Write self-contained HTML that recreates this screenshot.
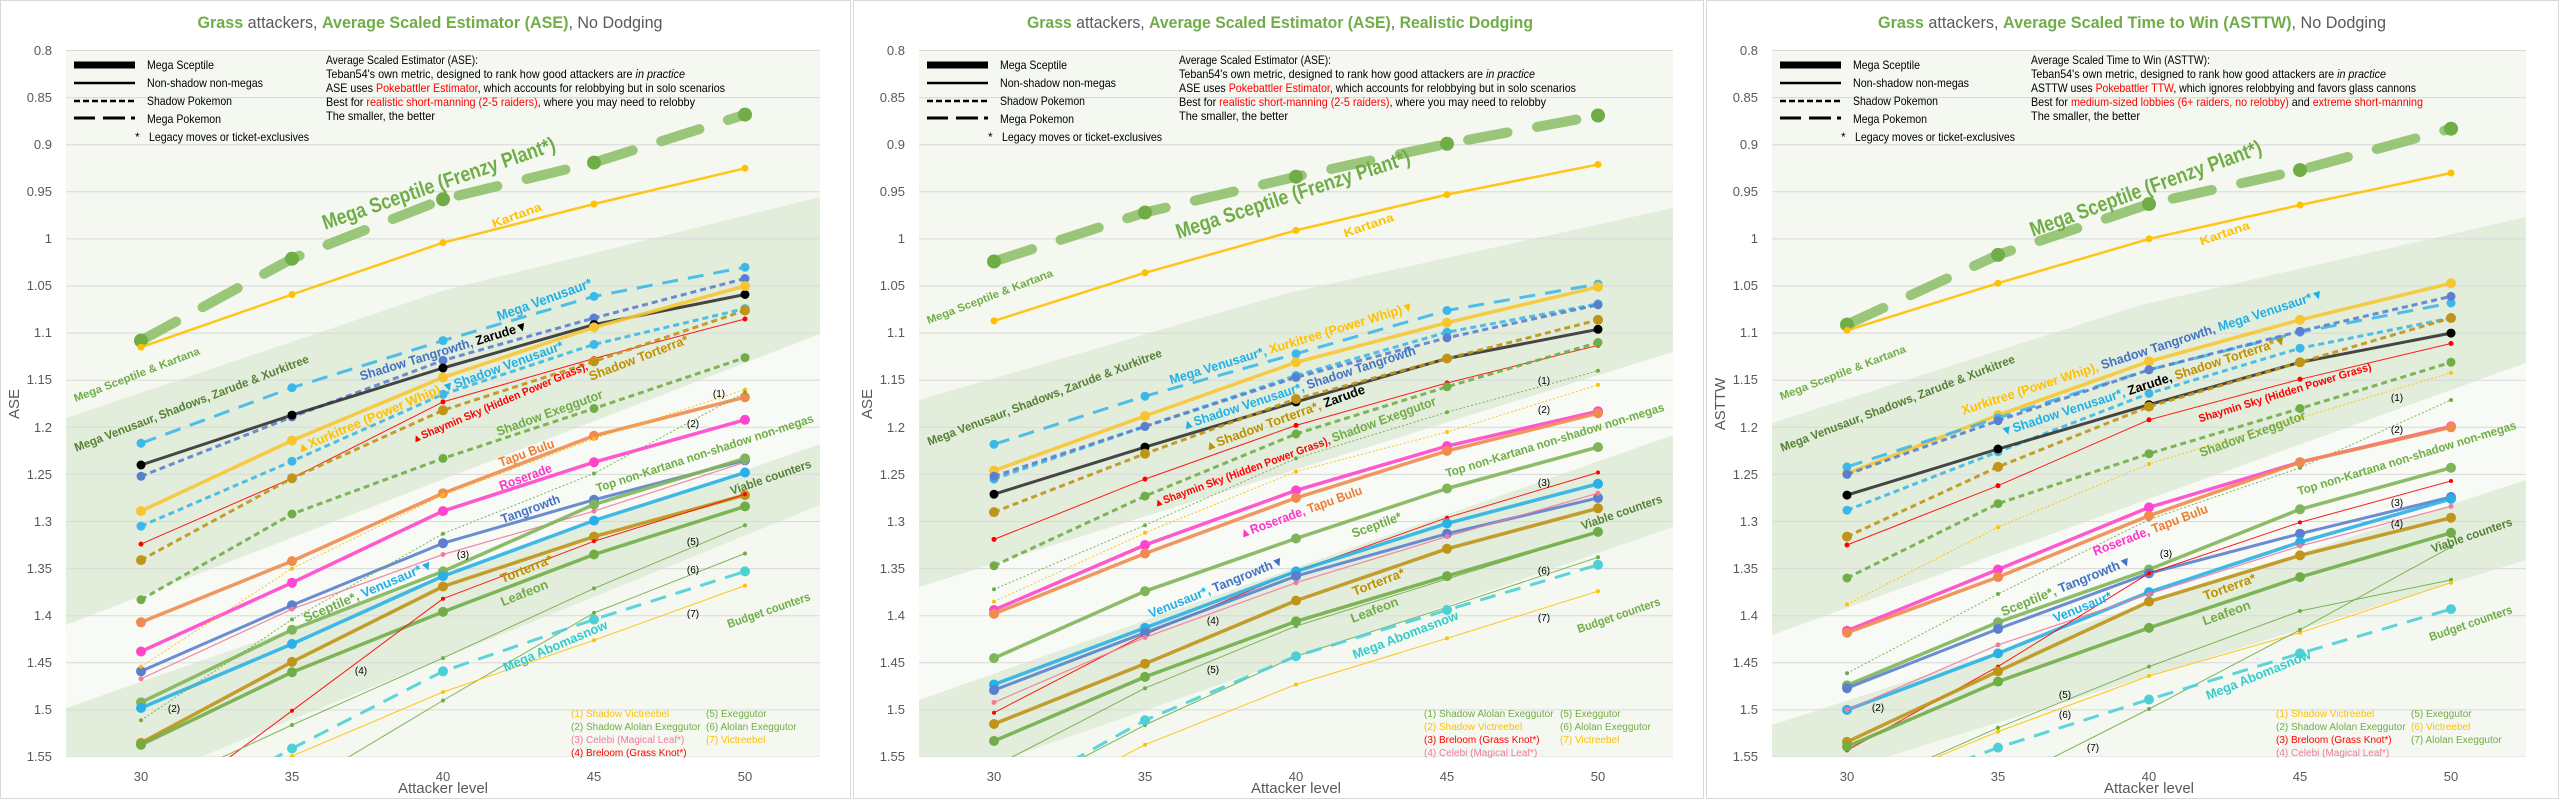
<!DOCTYPE html>
<html><head><meta charset="utf-8">
<style>
html,body{margin:0;padding:0;background:#fff;width:2560px;height:800px;overflow:hidden;}
svg{display:block;font-family:"Liberation Sans",sans-serif;}
.tk{font-size:13px;fill:#595959;}
.lg{font-size:12px;fill:#000;}
.b{font-weight:bold;}
.fn{font-size:10px;}
.sm{font-size:10px;fill:#000;}
</style></head>
<body>
<svg id="s" width="2560" height="800" viewBox="0 0 2560 800" xmlns="http://www.w3.org/2000/svg" overflow="hidden">
<defs><clipPath id="cp" clipPathUnits="userSpaceOnUse"><rect x="66" y="50" width="754" height="707"/></clipPath></defs>
<rect width="2560" height="800" fill="#fff"/>

<!-- PANEL 1 -->
<g transform="translate(0,0)">
<rect x="0.5" y="0.5" width="850" height="798" fill="#fff" stroke="#d9d9d9"/>
<g id="d0"></g>
<text x="430" y="28" text-anchor="middle" font-size="17" textLength="465" lengthAdjust="spacingAndGlyphs" fill="#595959"><tspan fill="#70ad47" font-weight="bold">Grass</tspan> attackers, <tspan fill="#70ad47" font-weight="bold">Average Scaled Estimator (ASE)</tspan>, No Dodging</text>
<g class="tk" text-anchor="end">
<text x="52" y="55">0.8</text><text x="52" y="102">0.85</text><text x="52" y="149">0.9</text><text x="52" y="196">0.95</text><text x="52" y="243">1</text><text x="52" y="290">1.05</text><text x="52" y="337">1.1</text><text x="52" y="384">1.15</text><text x="52" y="432">1.2</text><text x="52" y="479">1.25</text><text x="52" y="526">1.3</text><text x="52" y="573">1.35</text><text x="52" y="620">1.4</text><text x="52" y="667">1.45</text><text x="52" y="714">1.5</text><text x="52" y="761">1.55</text>
</g>
<g class="tk" text-anchor="middle"><text x="141" y="781">30</text><text x="292" y="781">35</text><text x="443" y="781">40</text><text x="594" y="781">45</text><text x="745" y="781">50</text></g>
<text x="443" y="793" text-anchor="middle" font-size="15" fill="#595959">Attacker level</text>
<text transform="translate(19,404) rotate(-90)" text-anchor="middle" font-size="15" fill="#595959">ASE</text>
<g stroke="#000" fill="none"><line x1="74" x2="135" y1="65" y2="65" stroke-width="7"/><line x1="74" x2="135" y1="83" y2="83" stroke-width="2.5"/><line x1="74" x2="135" y1="101" y2="101" stroke-width="2.5" stroke-dasharray="6 3"/><path d="M74 118H95M103 118H125M131 118H135" stroke-width="3"/></g>
<g class="lg"><text x="147" y="69" textLength="67" lengthAdjust="spacingAndGlyphs">Mega Sceptile</text><text x="147" y="87" textLength="116" lengthAdjust="spacingAndGlyphs">Non-shadow non-megas</text><text x="147" y="105" textLength="85" lengthAdjust="spacingAndGlyphs">Shadow Pokemon</text><text x="147" y="123" textLength="74" lengthAdjust="spacingAndGlyphs">Mega Pokemon</text><text x="135" y="141">*</text><text x="149" y="141" textLength="160" lengthAdjust="spacingAndGlyphs">Legacy moves or ticket-exclusives</text>
<text x="326" y="64" textLength="152" lengthAdjust="spacingAndGlyphs">Average Scaled Estimator (ASE):</text>
<text x="326" y="78" textLength="359" lengthAdjust="spacingAndGlyphs">Teban54's own metric, designed to rank how good attackers are <tspan font-style="italic">in practice</tspan></text>
<text x="326" y="92" textLength="399" lengthAdjust="spacingAndGlyphs">ASE uses <tspan fill="#ff0000">Pokebattler Estimator</tspan>, which accounts for relobbying but in solo scenarios</text>
<text x="326" y="106" textLength="369" lengthAdjust="spacingAndGlyphs">Best for <tspan fill="#ff0000">realistic short-manning (2-5 raiders)</tspan>, where you may need to relobby</text>
<text x="326" y="120" textLength="109" lengthAdjust="spacingAndGlyphs">The smaller, the better</text></g>
<g class="b" text-anchor="middle">
<text transform="translate(441,190) rotate(-19)" font-size="21" fill="#70ad47" textLength="245" lengthAdjust="spacingAndGlyphs">Mega Sceptile (Frenzy Plant*)</text>
<text transform="translate(518,219) rotate(-20)" font-size="12" fill="#ffc000" textLength="52" lengthAdjust="spacingAndGlyphs">Kartana</text>
<text transform="translate(138,378) rotate(-21)" font-size="11" fill="#70ad47" textLength="134" lengthAdjust="spacingAndGlyphs">Mega Sceptile &amp; Kartana</text>
<text transform="translate(193,407) rotate(-21)" font-size="12" fill="#548235" textLength="250" lengthAdjust="spacingAndGlyphs">Mega Venusaur, Shadows, Zarude &amp; Xurkitree</text>
<text transform="translate(546,304) rotate(-20)" font-size="14" fill="#1fb0e8" textLength="100" lengthAdjust="spacingAndGlyphs">Mega Venusaur*</text>
<text transform="translate(445,355) rotate(-17)" font-size="13" fill="#4472c4" textLength="175" lengthAdjust="spacingAndGlyphs">Shadow Tangrowth, <tspan fill="#000">Zarude▼</tspan></text>
<text transform="translate(504,371) rotate(-20)" font-size="13" fill="#1fb0e8" textLength="128" lengthAdjust="spacingAndGlyphs">▼Shadow Venusaur*</text>
<text transform="translate(640,362) rotate(-21)" font-size="13" fill="#bf9000" textLength="105" lengthAdjust="spacingAndGlyphs">Shadow Torterra*</text>
<text transform="translate(370,423) rotate(-23)" font-size="13" fill="#ffc000" textLength="155" lengthAdjust="spacingAndGlyphs">▲Xurkitree (Power Whip)</text>
<text transform="translate(501,406) rotate(-23)" font-size="11" fill="#ff0000" textLength="190" lengthAdjust="spacingAndGlyphs">▲Shaymin Sky (Hidden Power Grass),</text>
<text transform="translate(551,417) rotate(-20)" font-size="13" fill="#70ad47" textLength="112" lengthAdjust="spacingAndGlyphs">Shadow Exeggutor</text>
<text transform="translate(528,457) rotate(-20)" font-size="13" fill="#ed7d31" textLength="58" lengthAdjust="spacingAndGlyphs">Tapu Bulu</text>
<text transform="translate(527,481) rotate(-20)" font-size="13" fill="#ff33cc" textLength="55" lengthAdjust="spacingAndGlyphs">Roserade</text>
<text transform="translate(532,513) rotate(-20)" font-size="13" fill="#4472c4" textLength="62" lengthAdjust="spacingAndGlyphs">Tangrowth</text>
<text transform="translate(706,457) rotate(-18)" font-size="12" fill="#70ad47" textLength="228" lengthAdjust="spacingAndGlyphs">Top non-Kartana non-shadow non-megas</text>
<text transform="translate(772,481) rotate(-19)" font-size="12" fill="#548235" textLength="85" lengthAdjust="spacingAndGlyphs">Viable counters</text>
<text transform="translate(770,614) rotate(-19)" font-size="12" fill="#70ad47" textLength="87" lengthAdjust="spacingAndGlyphs">Budget counters</text>
<text transform="translate(370,595) rotate(-23)" font-size="13" fill="#70ad47" textLength="140" lengthAdjust="spacingAndGlyphs">Sceptile*, <tspan fill="#1fb0e8">Venusaur*▼</tspan></text>
<text transform="translate(528,573) rotate(-22)" font-size="13" fill="#bf9000" textLength="55" lengthAdjust="spacingAndGlyphs">Torterra*</text>
<text transform="translate(526,597) rotate(-22)" font-size="13" fill="#70ad47" textLength="50" lengthAdjust="spacingAndGlyphs">Leafeon</text>
<text transform="translate(557,650) rotate(-23)" font-size="13" fill="#33cccc" textLength="112" lengthAdjust="spacingAndGlyphs">Mega Abomasnow</text>
</g>
<g class="sm" text-anchor="middle"><text x="719" y="397">(1)</text><text x="693" y="427">(2)</text><text x="463" y="558">(3)</text><text x="361" y="674">(4)</text><text x="693" y="545">(5)</text><text x="693" y="573">(6)</text><text x="693" y="617">(7)</text><text x="174" y="712">(2)</text></g>
<g class="fn"><text x="571" y="717" fill="#ffc000">(1) Shadow Victreebel</text><text x="571" y="730" fill="#70ad47">(2) Shadow Alolan Exeggutor</text><text x="571" y="743" fill="#f27a9c">(3) Celebi (Magical Leaf*)</text><text x="571" y="756" fill="#ff0000">(4) Breloom (Grass Knot*)</text><text x="706" y="717" fill="#70ad47">(5) Exeggutor</text><text x="706" y="730" fill="#70ad47">(6) Alolan Exeggutor</text><text x="706" y="743" fill="#ffc000">(7) Victreebel</text></g>
</g>

<!-- PANEL 2 -->
<g transform="translate(853,0)">
<rect x="0.5" y="0.5" width="850" height="798" fill="#fff" stroke="#d9d9d9"/>
<g id="d1"></g>
<text x="427" y="28" text-anchor="middle" font-size="17" textLength="506" lengthAdjust="spacingAndGlyphs" fill="#595959"><tspan fill="#70ad47" font-weight="bold">Grass</tspan> attackers, <tspan fill="#70ad47" font-weight="bold">Average Scaled Estimator (ASE)</tspan>, <tspan fill="#70ad47" font-weight="bold">Realistic Dodging</tspan></text>
<g class="tk" text-anchor="end">
<text x="52" y="55">0.8</text><text x="52" y="102">0.85</text><text x="52" y="149">0.9</text><text x="52" y="196">0.95</text><text x="52" y="243">1</text><text x="52" y="290">1.05</text><text x="52" y="337">1.1</text><text x="52" y="384">1.15</text><text x="52" y="432">1.2</text><text x="52" y="479">1.25</text><text x="52" y="526">1.3</text><text x="52" y="573">1.35</text><text x="52" y="620">1.4</text><text x="52" y="667">1.45</text><text x="52" y="714">1.5</text><text x="52" y="761">1.55</text>
</g>
<g class="tk" text-anchor="middle"><text x="141" y="781">30</text><text x="292" y="781">35</text><text x="443" y="781">40</text><text x="594" y="781">45</text><text x="745" y="781">50</text></g>
<text x="443" y="793" text-anchor="middle" font-size="15" fill="#595959">Attacker level</text>
<text transform="translate(19,404) rotate(-90)" text-anchor="middle" font-size="15" fill="#595959">ASE</text>
<g stroke="#000" fill="none"><line x1="74" x2="135" y1="65" y2="65" stroke-width="7"/><line x1="74" x2="135" y1="83" y2="83" stroke-width="2.5"/><line x1="74" x2="135" y1="101" y2="101" stroke-width="2.5" stroke-dasharray="6 3"/><path d="M74 118H95M103 118H125M131 118H135" stroke-width="3"/></g>
<g class="lg"><text x="147" y="69" textLength="67" lengthAdjust="spacingAndGlyphs">Mega Sceptile</text><text x="147" y="87" textLength="116" lengthAdjust="spacingAndGlyphs">Non-shadow non-megas</text><text x="147" y="105" textLength="85" lengthAdjust="spacingAndGlyphs">Shadow Pokemon</text><text x="147" y="123" textLength="74" lengthAdjust="spacingAndGlyphs">Mega Pokemon</text><text x="135" y="141">*</text><text x="149" y="141" textLength="160" lengthAdjust="spacingAndGlyphs">Legacy moves or ticket-exclusives</text>
<text x="326" y="64" textLength="152" lengthAdjust="spacingAndGlyphs">Average Scaled Estimator (ASE):</text>
<text x="326" y="78" textLength="356" lengthAdjust="spacingAndGlyphs">Teban54's own metric, designed to rank how good attackers are <tspan font-style="italic">in practice</tspan></text>
<text x="326" y="92" textLength="397" lengthAdjust="spacingAndGlyphs">ASE uses <tspan fill="#ff0000">Pokebattler Estimator</tspan>, which accounts for relobbying but in solo scenarios</text>
<text x="326" y="106" textLength="367" lengthAdjust="spacingAndGlyphs">Best for <tspan fill="#ff0000">realistic short-manning (2-5 raiders)</tspan>, where you may need to relobby</text>
<text x="326" y="120" textLength="109" lengthAdjust="spacingAndGlyphs">The smaller, the better</text></g>
<g class="b" text-anchor="middle">
<text transform="translate(442,201) rotate(-18)" font-size="21" fill="#70ad47" textLength="245" lengthAdjust="spacingAndGlyphs">Mega Sceptile (Frenzy Plant*)</text>
<text transform="translate(517,229) rotate(-19)" font-size="12" fill="#ffc000" textLength="52" lengthAdjust="spacingAndGlyphs">Kartana</text>
<text transform="translate(138,300) rotate(-21)" font-size="11" fill="#70ad47" textLength="134" lengthAdjust="spacingAndGlyphs">Mega Sceptile &amp; Kartana</text>
<text transform="translate(193,401) rotate(-21)" font-size="12" fill="#548235" textLength="250" lengthAdjust="spacingAndGlyphs">Mega Venusaur, Shadows, Zarude &amp; Xurkitree</text>
<text transform="translate(440,347) rotate(-17)" font-size="13" fill="#1fb0e8" textLength="255" lengthAdjust="spacingAndGlyphs">Mega Venusaur*, <tspan fill="#ffc000">Xurkitree (Power Whip)▼</tspan></text>
<text transform="translate(447,392) rotate(-18)" font-size="13" fill="#1fb0e8" textLength="245" lengthAdjust="spacingAndGlyphs">▲Shadow Venusaur*, <tspan fill="#4472c4">Shadow Tangrowth</tspan></text>
<text transform="translate(433,422) rotate(-20)" font-size="13" fill="#bf9000" textLength="170" lengthAdjust="spacingAndGlyphs">▲Shadow Torterra*, <tspan fill="#000">Zarude</tspan></text>
<text transform="translate(443,456) rotate(-20)" font-size="11" fill="#ff0000" textLength="300" lengthAdjust="spacingAndGlyphs">▲Shaymin Sky (Hidden Power Grass), <tspan fill="#70ad47" font-size="13">Shadow Exeggutor</tspan></text>
<text transform="translate(449,516) rotate(-20)" font-size="13" fill="#ff33cc" textLength="130" lengthAdjust="spacingAndGlyphs">▲Roserade, <tspan fill="#ed7d31">Tapu Bulu</tspan></text>
<text transform="translate(703,444) rotate(-17)" font-size="12" fill="#70ad47" textLength="228" lengthAdjust="spacingAndGlyphs">Top non-Kartana non-shadow non-megas</text>
<text transform="translate(525,529) rotate(-20)" font-size="13" fill="#70ad47" textLength="52" lengthAdjust="spacingAndGlyphs">Sceptile*</text>
<text transform="translate(365,591) rotate(-22)" font-size="13" fill="#1fb0e8" textLength="145" lengthAdjust="spacingAndGlyphs">Venusaur*, <tspan fill="#4472c4">Tangrowth▼</tspan></text>
<text transform="translate(527,586) rotate(-21)" font-size="13" fill="#bf9000" textLength="55" lengthAdjust="spacingAndGlyphs">Torterra*</text>
<text transform="translate(523,614) rotate(-21)" font-size="13" fill="#70ad47" textLength="50" lengthAdjust="spacingAndGlyphs">Leafeon</text>
<text transform="translate(554,639) rotate(-21)" font-size="13" fill="#33cccc" textLength="112" lengthAdjust="spacingAndGlyphs">Mega Abomasnow</text>
<text transform="translate(770,516) rotate(-19)" font-size="12" fill="#548235" textLength="85" lengthAdjust="spacingAndGlyphs">Viable counters</text>
<text transform="translate(767,619) rotate(-19)" font-size="12" fill="#70ad47" textLength="87" lengthAdjust="spacingAndGlyphs">Budget counters</text>
</g>
<g class="sm" text-anchor="middle"><text x="691" y="384">(1)</text><text x="691" y="413">(2)</text><text x="691" y="486">(3)</text><text x="360" y="624">(4)</text><text x="360" y="673">(5)</text><text x="691" y="574">(6)</text><text x="691" y="621">(7)</text></g>
<g class="fn"><text x="571" y="717" fill="#70ad47">(1) Shadow Alolan Exeggutor</text><text x="571" y="730" fill="#ffc000">(2) Shadow Victreebel</text><text x="571" y="743" fill="#ff0000">(3) Breloom (Grass Knot*)</text><text x="571" y="756" fill="#f27a9c">(4) Celebi (Magical Leaf*)</text><text x="707" y="717" fill="#70ad47">(5) Exeggutor</text><text x="707" y="730" fill="#70ad47">(6) Alolan Exeggutor</text><text x="707" y="743" fill="#ffc000">(7) Victreebel</text></g>
</g>

<!-- PANEL 3 -->
<g transform="translate(1706,0)">
<rect x="0.5" y="0.5" width="852" height="798" fill="#fff" stroke="#d9d9d9"/>
<g id="d2"></g>
<text x="426" y="28" text-anchor="middle" font-size="17" textLength="508" lengthAdjust="spacingAndGlyphs" fill="#595959"><tspan fill="#70ad47" font-weight="bold">Grass</tspan> attackers, <tspan fill="#70ad47" font-weight="bold">Average Scaled Time to Win (ASTTW)</tspan>, No Dodging</text>
<g class="tk" text-anchor="end">
<text x="52" y="55">0.8</text><text x="52" y="102">0.85</text><text x="52" y="149">0.9</text><text x="52" y="196">0.95</text><text x="52" y="243">1</text><text x="52" y="290">1.05</text><text x="52" y="337">1.1</text><text x="52" y="384">1.15</text><text x="52" y="432">1.2</text><text x="52" y="479">1.25</text><text x="52" y="526">1.3</text><text x="52" y="573">1.35</text><text x="52" y="620">1.4</text><text x="52" y="667">1.45</text><text x="52" y="714">1.5</text><text x="52" y="761">1.55</text>
</g>
<g class="tk" text-anchor="middle"><text x="141" y="781">30</text><text x="292" y="781">35</text><text x="443" y="781">40</text><text x="594" y="781">45</text><text x="745" y="781">50</text></g>
<text x="443" y="793" text-anchor="middle" font-size="15" fill="#595959">Attacker level</text>
<text transform="translate(19,404) rotate(-90)" text-anchor="middle" font-size="15" fill="#595959">ASTTW</text>
<g stroke="#000" fill="none"><line x1="74" x2="135" y1="65" y2="65" stroke-width="7"/><line x1="74" x2="135" y1="83" y2="83" stroke-width="2.5"/><line x1="74" x2="135" y1="101" y2="101" stroke-width="2.5" stroke-dasharray="6 3"/><path d="M74 118H95M103 118H125M131 118H135" stroke-width="3"/></g>
<g class="lg"><text x="147" y="69" textLength="67" lengthAdjust="spacingAndGlyphs">Mega Sceptile</text><text x="147" y="87" textLength="116" lengthAdjust="spacingAndGlyphs">Non-shadow non-megas</text><text x="147" y="105" textLength="85" lengthAdjust="spacingAndGlyphs">Shadow Pokemon</text><text x="147" y="123" textLength="74" lengthAdjust="spacingAndGlyphs">Mega Pokemon</text><text x="135" y="141">*</text><text x="149" y="141" textLength="160" lengthAdjust="spacingAndGlyphs">Legacy moves or ticket-exclusives</text>
<text x="325" y="64" textLength="179" lengthAdjust="spacingAndGlyphs">Average Scaled Time to Win (ASTTW):</text>
<text x="325" y="78" textLength="355" lengthAdjust="spacingAndGlyphs">Teban54's own metric, designed to rank how good attackers are <tspan font-style="italic">in practice</tspan></text>
<text x="325" y="92" textLength="385" lengthAdjust="spacingAndGlyphs">ASTTW uses <tspan fill="#ff0000">Pokebattler TTW</tspan>, which ignores relobbying and favors glass cannons</text>
<text x="325" y="106" textLength="392" lengthAdjust="spacingAndGlyphs">Best for <tspan fill="#ff0000">medium-sized lobbies (6+ raiders, no relobby)</tspan> and <tspan fill="#ff0000">extreme short-manning</tspan></text>
<text x="325" y="120" textLength="109" lengthAdjust="spacingAndGlyphs">The smaller, the better</text></g>
<g class="b" text-anchor="middle">
<text transform="translate(442,195) rotate(-20)" font-size="21" fill="#70ad47" textLength="245" lengthAdjust="spacingAndGlyphs">Mega Sceptile (Frenzy Plant*)</text>
<text transform="translate(520,237) rotate(-19)" font-size="12" fill="#ffc000" textLength="52" lengthAdjust="spacingAndGlyphs">Kartana</text>
<text transform="translate(138,376) rotate(-21)" font-size="11" fill="#70ad47" textLength="134" lengthAdjust="spacingAndGlyphs">Mega Sceptile &amp; Kartana</text>
<text transform="translate(193,407) rotate(-21)" font-size="12" fill="#548235" textLength="250" lengthAdjust="spacingAndGlyphs">Mega Venusaur, Shadows, Zarude &amp; Xurkitree</text>
<text transform="translate(438,356) rotate(-18)" font-size="13" fill="#ffc000" textLength="380" lengthAdjust="spacingAndGlyphs">Xurkitree (Power Whip), <tspan fill="#4472c4">Shadow Tangrowth,</tspan> <tspan fill="#1fb0e8">Mega Venusaur*▼</tspan></text>
<text transform="translate(439,390) rotate(-18)" font-size="13" fill="#1fb0e8" textLength="300" lengthAdjust="spacingAndGlyphs">▼Shadow Venusaur*, <tspan fill="#000">Zarude,</tspan> <tspan fill="#bf9000">Shadow Torterra*▼</tspan></text>
<text transform="translate(580,396) rotate(-17)" font-size="11" fill="#ff0000" textLength="180" lengthAdjust="spacingAndGlyphs">Shaymin Sky (Hidden Power Grass)</text>
<text transform="translate(548,438) rotate(-20)" font-size="13" fill="#70ad47" textLength="112" lengthAdjust="spacingAndGlyphs">Shadow Exeggutor</text>
<text transform="translate(702,462) rotate(-17)" font-size="12" fill="#70ad47" textLength="228" lengthAdjust="spacingAndGlyphs">Top non-Kartana non-shadow non-megas</text>
<text transform="translate(446,534) rotate(-21)" font-size="13" fill="#ff33cc" textLength="122" lengthAdjust="spacingAndGlyphs">Roserade, <tspan fill="#ed7d31">Tapu Bulu</tspan></text>
<text transform="translate(362,590) rotate(-22)" font-size="13" fill="#70ad47" textLength="140" lengthAdjust="spacingAndGlyphs">Sceptile*, <tspan fill="#4472c4">Tangrowth▼</tspan></text>
<text transform="translate(378,611) rotate(-22)" font-size="13" fill="#1fb0e8" textLength="62" lengthAdjust="spacingAndGlyphs">Venusaur*</text>
<text transform="translate(525,591) rotate(-20)" font-size="13" fill="#bf9000" textLength="55" lengthAdjust="spacingAndGlyphs">Torterra*</text>
<text transform="translate(522,617) rotate(-20)" font-size="13" fill="#70ad47" textLength="50" lengthAdjust="spacingAndGlyphs">Leafeon</text>
<text transform="translate(554,679) rotate(-22)" font-size="13" fill="#33cccc" textLength="112" lengthAdjust="spacingAndGlyphs">Mega Abomasnow</text>
<text transform="translate(767,539) rotate(-19)" font-size="12" fill="#548235" textLength="85" lengthAdjust="spacingAndGlyphs">Viable counters</text>
<text transform="translate(766,627) rotate(-19)" font-size="12" fill="#70ad47" textLength="87" lengthAdjust="spacingAndGlyphs">Budget counters</text>
</g>
<g class="sm" text-anchor="middle"><text x="691" y="401">(1)</text><text x="691" y="433">(2)</text><text x="691" y="506">(3)</text><text x="691" y="527">(4)</text><text x="172" y="711">(2)</text><text x="460" y="557">(3)</text><text x="359" y="698">(5)</text><text x="359" y="718">(6)</text><text x="387" y="751">(7)</text></g>
<g class="fn"><text x="570" y="717" fill="#ffc000">(1) Shadow Victreebel</text><text x="570" y="730" fill="#70ad47">(2) Shadow Alolan Exeggutor</text><text x="570" y="743" fill="#ff0000">(3) Breloom (Grass Knot*)</text><text x="570" y="756" fill="#f27a9c">(4) Celebi (Magical Leaf*)</text><text x="705" y="717" fill="#70ad47">(5) Exeggutor</text><text x="705" y="730" fill="#ffc000">(6) Victreebel</text><text x="705" y="743" fill="#70ad47">(7) Alolan Exeggutor</text></g>
</g>
</svg>
<script>
(function(){
var Y=function(v){return 50.5+(v-0.8)*942;};
var X=function(k){return 141+k*151;};
var VMAX=1.555;
var ST={
MSc:['#8fc06a',10,'40 30',7,'#70ad47'],
Kart:['#ffc000',2.5,'',3.5],
MVen:['#3cb8e8',3,'16 10',4.5],
ShTang:['#5b7fcf',3,'6 4',4.5],
Zar:['#333333',3,'',4.5,'#000'],
Xurk:['#f7c531',3.5,'',5],
ShVen:['#3cb8e8',3,'6 4',4.5],
Shay:['#ff0000',1,'',2.5],
ShTort:['#bf9418',3,'6 4',5],
ShExe:['#70ad47',3,'6 4',4.5],
Tapu:['#f08b4f',3.5,'',5],
Rose:['#ff45cc',3.5,'',5],
Tang:['#5b7fcf',3,'',5],
Cel:['#f27a9c',1.2,'',2.5],
Scep:['#7fb55a',3.5,'',5],
Ven:['#2ab0e6',3.5,'',5],
Tort:['#bf9418',3.5,'',5],
Leaf:['#70ad47',3.5,'',5],
Brel:['#ff0000',1,'',2],
Exe:['#70ad47',1,'',2],
AExe:['#70ad47',1,'',2],
MAbo:['#4dcfd6',3,'16 10',5],
Vic:['#ffc000',1,'',2],
ShVic:['#ffc000',1,'2 2',2],
ShAExe:['#70ad47',1,'2 2',2]
};
var D=[
{MSc:[1.108,1.021,0.958,0.919,0.868],Kart:[1.115,1.059,1.004,0.963,0.925],MVen:[1.217,1.158,1.108,1.061,1.030],ShTang:[1.252,1.189,1.129,1.084,1.042],Zar:[1.240,1.187,1.137,1.091,1.059],Xurk:[1.289,1.214,1.147,1.094,1.050],ShVen:[1.305,1.236,1.165,1.112,1.074],Shay:[1.324,1.254,1.173,1.127,1.085],ShTort:[1.341,1.254,1.182,1.130,1.076],ShExe:[1.383,1.292,1.233,1.180,1.126],Tapu:[1.407,1.342,1.270,1.209,1.168],Rose:[1.438,1.365,1.289,1.237,1.192],Tang:[1.459,1.389,1.323,1.277,1.235],Cel:[1.467,1.393,1.335,1.289,1.237],Scep:[1.492,1.415,1.353,1.282,1.233],Ven:[1.498,1.430,1.358,1.299,1.248],Tort:[1.535,1.449,1.369,1.316,1.272],Leaf:[1.537,1.460,1.396,1.335,1.284],Brel:[1.62,1.501,1.382,1.321,1.271],Exe:[1.59,1.516,1.445,1.371,1.304],AExe:[1.68,1.586,1.490,1.397,1.334],MAbo:[1.63,1.541,1.459,1.404,1.353],Vic:[1.62,1.549,1.481,1.426,1.368],ShVic:[1.454,1.350,1.272,1.212,1.160],ShAExe:[1.511,1.404,1.313,1.249,1.163]},
{MSc:[1.024,0.972,0.934,0.899,0.869],Kart:[1.087,1.036,0.991,0.953,0.921],MVen:[1.218,1.167,1.122,1.076,1.048],Xurk:[1.246,1.188,1.131,1.089,1.051],ShVen:[1.255,1.199,1.145,1.099,1.069],ShTang:[1.252,1.199,1.147,1.105,1.070],Zar:[1.271,1.221,1.173,1.127,1.096],ShTort:[1.290,1.228,1.170,1.127,1.086],Shay:[1.319,1.255,1.198,1.153,1.113],ShExe:[1.347,1.273,1.207,1.157,1.110],ShAExe:[1.372,1.304,1.233,1.184,1.140],ShVic:[1.385,1.312,1.247,1.205,1.155],Rose:[1.394,1.325,1.267,1.220,1.183],Tapu:[1.398,1.334,1.275,1.225,1.185],Scep:[1.445,1.374,1.318,1.265,1.221],Brel:[1.503,1.420,1.353,1.296,1.248],Ven:[1.473,1.413,1.353,1.302,1.260],Tang:[1.479,1.418,1.358,1.313,1.275],Cel:[1.492,1.423,1.365,1.316,1.270],Tort:[1.515,1.451,1.384,1.329,1.286],Leaf:[1.533,1.465,1.406,1.358,1.311],Exe:[1.56,1.477,1.411,1.361,1.311],AExe:[1.60,1.516,1.443,1.391,1.338],MAbo:[1.60,1.511,1.443,1.394,1.346],Vic:[1.62,1.537,1.473,1.424,1.374]},
{MSc:[1.091,1.017,0.963,0.927,0.883],Kart:[1.097,1.047,1.000,0.964,0.930],Xurk:[1.249,1.187,1.130,1.086,1.047],MVen:[1.242,1.19,1.139,1.099,1.068],ShTang:[1.250,1.193,1.139,1.098,1.061],ShVen:[1.288,1.226,1.164,1.116,1.084],Zar:[1.272,1.223,1.176,1.131,1.100],ShTort:[1.316,1.242,1.178,1.131,1.084],Shay:[1.325,1.262,1.192,1.149,1.111],ShExe:[1.360,1.281,1.228,1.180,1.131],ShVic:[1.388,1.306,1.239,1.19,1.142],ShAExe:[1.461,1.377,1.298,1.243,1.171],Rose:[1.416,1.351,1.285,1.237,1.199],Tapu:[1.418,1.359,1.294,1.237,1.200],Scep:[1.474,1.407,1.351,1.287,1.243],Tang:[1.477,1.414,1.355,1.313,1.274],Ven:[1.500,1.440,1.375,1.322,1.276],Cel:[1.500,1.431,1.377,1.326,1.284],Brel:[1.543,1.454,1.355,1.301,1.257],Tort:[1.534,1.459,1.385,1.336,1.296],Leaf:[1.539,1.470,1.413,1.359,1.312],Exe:[1.59,1.519,1.454,1.395,1.362],Vic:[1.59,1.523,1.464,1.418,1.365],AExe:[1.66,1.58,1.499,1.415,1.327],MAbo:[1.60,1.54,1.489,1.440,1.393]}
];
var BANDS=[
[[[66,418],[445,290],[820,197]],[[820,334],[66,625]],[[66,708],[820,444]],[[820,505],[200,757]]],
[[[66,400],[435,293],[820,208]],[[820,352],[66,587]],[[66,700],[820,435]],[[820,527],[158,757]]],
[[[66,423],[435,305],[820,217]],[[820,363],[66,635]],[[66,725],[820,480]],[[820,560],[180,757]]]
];
function pts(a){return a.map(function(p){return p.join(',');}).join(' ');}
for(var i=0;i<3;i++){
 var h='<g clip-path="url(#cp)"><rect x="66" y="50" width="754" height="707" fill="#f4f8f1"/>';
 var b=BANDS[i];
 h+='<polygon points="'+pts(b[0].concat(b[1]))+'" fill="#e3eddb"/>';
 h+='<polygon points="'+pts(b[2].concat(b[3]).concat([[66,757]]))+'" fill="#e3eddb"/>';
 h+='<polygon points="'+pts(b[1].slice().reverse().concat(b[2].slice().reverse()))+'" fill="#f7faf5"/>';
 for(var t=0;t<=15;t++){var y=Y(0.8+t*0.05);h+='<line x1="66" x2="820" y1="'+y+'" y2="'+y+'" stroke="#d9d9d9" stroke-width="1"/>';}
 var d=D[i];
 for(var k in d){var s=ST[k],v=d[k];var p='';var started=false;
  for(var j=0;j<5;j++){
   if(v[j]<=VMAX){
     if(!started){
       if(j>0){var f=(v[j-1]-VMAX)/(v[j-1]-v[j]);var xs=X(j-1)+f*151;p+='M'+xs.toFixed(1)+' '+Y(VMAX).toFixed(1)+'L'+X(j)+' '+Y(v[j]).toFixed(1);}
       else{p+='M'+X(j)+' '+Y(v[j]).toFixed(1);}
       started=true;
     } else p+='L'+X(j)+' '+Y(v[j]).toFixed(1);
   }
  }
  h+='<path d="'+p+'" fill="none" stroke="'+s[0]+'" stroke-width="'+s[1]+'"'+(s[2]?' stroke-dasharray="'+s[2]+'"':'')+(k=='MSc'?' stroke-linecap="round"':'')+' stroke-linejoin="round" opacity="0.9"/>';
  for(var j=0;j<5;j++){if(v[j]<=1.552)h+='<circle cx="'+X(j)+'" cy="'+Y(v[j]).toFixed(1)+'" r="'+s[3]+'" fill="'+(s[4]||s[0])+'"/>';}
 }
 h+='</g>';
 document.getElementById('d'+i).innerHTML=h;
}
})();
</script>
</body></html>
